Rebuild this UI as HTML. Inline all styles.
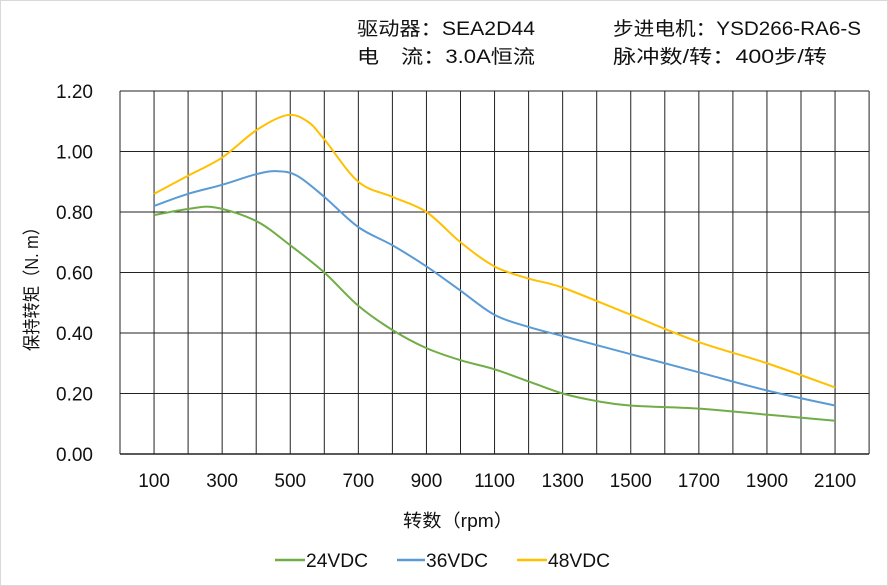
<!DOCTYPE html>
<html><head><meta charset="utf-8"><style>
body{margin:0;background:#fff}
svg{display:block}
text{font-family:"Liberation Sans","Noto Sans CJK SC",sans-serif;fill:#111}
</style></head><body>
<svg id="s" width="888" height="586" viewBox="0 0 888 586" xmlns="http://www.w3.org/2000/svg">
<rect x="0.5" y="0.5" width="887" height="585" fill="#fff" stroke="#d9d9d9"/>
<g id="grid" stroke="#222" stroke-width="1"></g>
<text x="357" y="35" font-size="19" textLength="178" lengthAdjust="spacingAndGlyphs">驱动器：SEA2D44</text>
<text x="357" y="63" font-size="19" textLength="178" lengthAdjust="spacingAndGlyphs">电　流：3.0A恒流</text>
<text x="613" y="35" font-size="19" textLength="248" lengthAdjust="spacingAndGlyphs">步进电机：YSD266-RA6-S</text>
<text x="613" y="63" font-size="19" textLength="214" lengthAdjust="spacingAndGlyphs">脉冲数/转：400步/转</text>
<g id="yl" font-size="19" text-anchor="end"></g>
<g id="xl" font-size="19" text-anchor="middle"></g>
<text transform="translate(38,285) rotate(-90)" font-size="18" text-anchor="middle" textLength="132" lengthAdjust="spacingAndGlyphs">保持转矩（N. m）</text>
<text x="458" y="527" font-size="18" text-anchor="middle" textLength="110" lengthAdjust="spacingAndGlyphs">转数（rpm）</text>
<g id="curves" fill="none" stroke-width="2"></g>
<line x1="275" y1="560" x2="305" y2="560" stroke="#70ad47" stroke-width="2.5"/>
<text x="306" y="567" font-size="19" textLength="62" lengthAdjust="spacingAndGlyphs">24VDC</text>
<line x1="397" y1="560" x2="425" y2="560" stroke="#5b9bd5" stroke-width="2.5"/>
<text x="426" y="567" font-size="19" textLength="62" lengthAdjust="spacingAndGlyphs">36VDC</text>
<line x1="517" y1="560" x2="547" y2="560" stroke="#ffc000" stroke-width="2.5"/>
<text x="548" y="567" font-size="19" textLength="62" lengthAdjust="spacingAndGlyphs">48VDC</text>
</svg>
<script>
var NS="http://www.w3.org/2000/svg";
function el(p,t,a,txt){var e=document.createElementNS(NS,t);for(var k in a)e.setAttribute(k,a[k]);if(txt)e.textContent=txt;document.getElementById(p).appendChild(e);}
var X=function(r){return 120+r*0.3405},Y=function(v){return 454-v*302.5};
for(var i=0;i<=22;i++){var x=X(i*100);el("grid","line",{x1:x,y1:91,x2:x,y2:454});}
for(var j=0;j<=6;j++){var y=Y(j*0.2);el("grid","line",{x1:120,y1:y,x2:869,y2:y,"stroke-width":j==0?1.5:1});
 el("yl","text",{x:93,y:y+7},(j*0.2).toFixed(2));}
for(var r=100;r<=2100;r+=200)el("xl","text",{x:X(r),y:487},""+r);
var D={"#70ad47":[[100,.79],[200,.81],[280,.815],[400,.77],[500,.69],[600,.60],[700,.49],[800,.41],[900,.35],[1000,.31],[1100,.28],[1200,.24],[1300,.20],[1400,.175],[1500,.16],[1700,.15],[1900,.13],[2100,.11]],
"#5b9bd5":[[100,.82],[200,.86],[300,.89],[400,.925],[460,.935],[520,.92],[600,.85],[700,.75],[800,.69],[900,.62],[1000,.54],[1100,.46],[1200,.42],[1300,.39],[1500,.33],[1700,.27],[1900,.21],[2100,.16]],
"#ffc000":[[100,.86],[200,.92],[300,.98],[400,1.07],[490,1.12],[550,1.10],[600,1.04],[700,.90],[800,.85],[900,.80],[1000,.70],[1100,.62],[1200,.58],[1300,.55],[1500,.46],[1700,.37],[1900,.30],[2100,.22]]};
for(var c in D){var p=D[c].map(function(q){return[X(q[0]),Y(q[1])]});var d="M"+p[0];
 for(var k=0;k<p.length-1;k++){var a=p[k-1]||p[k],b=p[k],e=p[k+1],f=p[k+2]||e;
  d+="C"+(b[0]+(e[0]-a[0])/6)+","+(b[1]+(e[1]-a[1])/6)+" "+(e[0]-(f[0]-b[0])/6)+","+(e[1]-(f[1]-b[1])/6)+" "+e;}
 el("curves","path",{d:d,stroke:c});}
</script>
</body></html>
